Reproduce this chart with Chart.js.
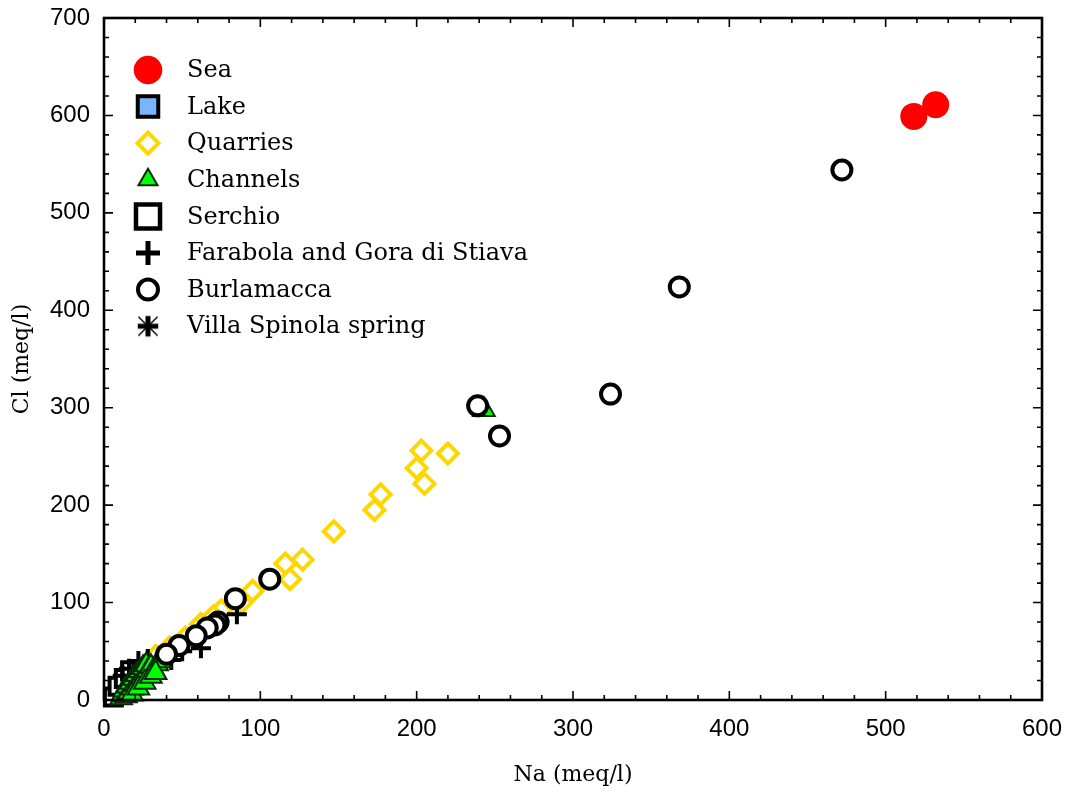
<!DOCTYPE html>
<html>
<head>
<meta charset="utf-8">
<title>Na vs Cl</title>
<script src="https://cdn.jsdelivr.net/npm/chart.js@4"></script>
<style>
  html, body { margin: 0; padding: 0; background: #fff; }
  #wrap { width: 1068px; height: 796px; position: relative; }
</style>
</head>
<body>
<div id="wrap"><canvas id="chart"></canvas></div>
<script>
// ─── Data (meq/l) ────────────────────────────────────────────────────────
const seaNa = [518, 532];
const seaCl = [599, 611];

const lakeNa = [24, 28];
const lakeCl = [28, 31];

const quarriesNa = [203, 220, 200, 205, 177, 173, 147, 127, 116, 119, 95, 88, 75, 70, 62, 52, 42, 33, 28];
const quarriesCl = [256, 253, 238, 222, 211, 195, 173, 144, 140, 124, 112, 100, 92, 86, 78, 64, 54, 45, 38];

const channelsNa = [11, 12, 13, 14, 15, 16, 17, 18, 19, 20, 21, 22, 23, 24, 25, 26, 27, 28, 30, 32, 34, 36, 18, 22, 26, 30, 33, 243];
const channelsCl = [2, 6, 10, 4, 14, 8, 18, 12, 22, 16, 26, 20, 30, 24, 33, 27, 36, 30, 34, 30, 37, 40, 6, 12, 18, 24, 28, 298];

const serchioNa = [6, 9, 13, 17];
const serchioCl = [3, 14, 22, 30];

const farabolaNa = [85, 62, 43, 22, 28, 50, 12, 16];
const farabolaCl = [88, 53, 41, 40, 42, 50, 25, 32];

const burlamaccaNa = [472, 368, 324, 253, 239, 106, 84, 73, 71, 66, 59, 48, 40];
const burlamaccaCl = [544, 424, 314, 271, 302, 124, 104, 80, 77, 74, 66, 56, 47];

const villaNa = [38];
const villaCl = [41];

const xTicks = [0, 100, 200, 300, 400, 500, 600];
const yTicks = [0, 100, 200, 300, 400, 500, 600, 700];

// ─── Styling helpers ─────────────────────────────────────────────────────
const SERIF = "'DejaVu Serif', 'Liberation Serif', serif";
const SANS = "'Liberation Sans', Arial, sans-serif";

function pts(xs, ys) {
  return xs.map(function (x, i) { return { x: x, y: ys[i] }; });
}

// asterisk: thick plus with thin diagonals
function makeAsterisk(size) {
  const c = document.createElement('canvas');
  c.width = size; c.height = size;
  const g = c.getContext('2d');
  const m = size / 2, a = size / 2 - 1;
  g.strokeStyle = '#000';
  g.lineWidth = 1.4;
  g.beginPath();
  g.moveTo(m - a * 0.8, m - a * 0.8); g.lineTo(m + a * 0.8, m + a * 0.8);
  g.moveTo(m + a * 0.8, m - a * 0.8); g.lineTo(m - a * 0.8, m + a * 0.8);
  g.stroke();
  g.lineWidth = 5;
  g.beginPath();
  g.moveTo(m, m - a * 0.85); g.lineTo(m, m + a * 0.85);
  g.moveTo(m - a * 0.85, m); g.lineTo(m + a * 0.85, m);
  g.stroke();
  return c;
}

const asteriskData = makeAsterisk(22);
const asteriskLegend = makeAsterisk(26);

// order: lower = drawn on top
const datasets = [
  { label: 'Sea', data: pts(seaNa, seaCl), pointStyle: 'circle', pointRadius: 13.5,
    pointBackgroundColor: '#ff0000', pointBorderColor: '#ff0000', pointBorderWidth: 0,
    legend: { r: 14.3, w: 0 }, order: 0 },
  { label: 'Lake', data: pts(lakeNa, lakeCl), pointStyle: 'rect', pointRadius: 12,
    pointBackgroundColor: '#7ab4ff', pointBorderColor: '#000', pointBorderWidth: 3.5,
    legend: { r: 14.5, w: 4 }, order: 5 },
  { label: 'Quarries', data: pts(quarriesNa, quarriesCl), pointStyle: 'rectRot', pointRadius: 10,
    pointBackgroundColor: '#ffffff', pointBorderColor: '#ffd700', pointBorderWidth: 4,
    legend: { r: 10.5, w: 4 }, order: 7 },
  { label: 'Channels', data: pts(channelsNa, channelsCl), pointStyle: 'triangle', pointRadius: 12.5,
    pointBackgroundColor: '#00ff00', pointBorderColor: '#0a2a0a', pointBorderWidth: 2,
    legend: { r: 11, w: 2 }, order: 2 },
  { label: 'Serchio', data: pts(serchioNa, serchioCl), pointStyle: 'rect', pointRadius: 12,
    pointBackgroundColor: '#ffffff', pointBorderColor: '#000', pointBorderWidth: 4,
    legend: { r: 17, w: 4.5 }, order: 6 },
  { label: 'Farabola and Gora di Stiava', data: pts(farabolaNa, farabolaCl), pointStyle: 'cross', pointRadius: 10,
    pointBackgroundColor: '#000', pointBorderColor: '#000', pointBorderWidth: 4,
    legend: { r: 12, w: 5 }, order: 4 },
  { label: 'Burlamacca', data: pts(burlamaccaNa, burlamaccaCl), pointStyle: 'circle', pointRadius: 9.5,
    pointBackgroundColor: '#ffffff', pointBorderColor: '#000', pointBorderWidth: 4,
    legend: { r: 10, w: 4 }, order: 1 },
  { label: 'Villa Spinola spring', data: pts(villaNa, villaCl), pointStyle: asteriskData, pointRadius: 11,
    pointBackgroundColor: '#000', pointBorderColor: '#000', pointBorderWidth: 0,
    legend: { r: 13, w: 0, img: asteriskLegend }, order: 3 }
];
datasets.forEach(function (d) { d.showLine = false; d.clip = false; });

// ─── Plugins ─────────────────────────────────────────────────────────────
// frame with inward major/minor ticks on all four sides
const framePlugin = {
  id: 'frame',
  afterDatasetsDraw: function (chart) {
    const ctx = chart.ctx, a = chart.chartArea;
    const xs = chart.scales.x, ys = chart.scales.y;
    ctx.save();
    ctx.strokeStyle = '#000';
    ctx.lineWidth = 1.6;
    ctx.beginPath();
    for (let v = 0; v <= 600; v += 20) {
      const px = xs.getPixelForValue(v), len = v % 100 === 0 ? 9 : 5;
      ctx.moveTo(px, a.bottom); ctx.lineTo(px, a.bottom - len);
      ctx.moveTo(px, a.top); ctx.lineTo(px, a.top + len);
    }
    for (let v = 0; v <= 700; v += 20) {
      const py = ys.getPixelForValue(v), len = v % 100 === 0 ? 9 : 5;
      ctx.moveTo(a.left, py); ctx.lineTo(a.left + len, py);
      ctx.moveTo(a.right, py); ctx.lineTo(a.right - len, py);
    }
    ctx.stroke();
    ctx.lineWidth = 2.6;
    ctx.strokeRect(a.left, a.top, a.right - a.left, a.bottom - a.top);
    ctx.restore();
  }
};

// legend drawn inside the plot, top-left
const legendPlugin = {
  id: 'insideLegend',
  afterDraw: function (chart) {
    const ctx = chart.ctx;
    chart.data.datasets.forEach(function (ds, i) {
      const y = 70 + i * 36.6;
      ctx.save();
      if (ds.legend.img) {
        const im = ds.legend.img;
        ctx.drawImage(im, 148 - im.width / 2, y - im.height / 2);
      } else {
        ctx.fillStyle = ds.pointBackgroundColor;
        ctx.strokeStyle = ds.pointBorderColor;
        ctx.lineWidth = ds.legend.w;
        Chart.helpers.drawPoint(ctx, {
          pointStyle: ds.pointStyle, radius: ds.legend.r, rotation: 0, borderWidth: ds.legend.w
        }, 148, y);
      }
      ctx.fillStyle = '#000';
      ctx.font = '24px ' + SERIF;
      ctx.textBaseline = 'middle';
      ctx.textAlign = 'left';
      ctx.fillText(ds.label, 187, y + 1);
      ctx.restore();
    });
  }
};

// ─── Chart ───────────────────────────────────────────────────────────────
new Chart(document.getElementById('chart'), {
  type: 'scatter',
  data: { datasets: datasets },
  options: {
    responsive: true,
    maintainAspectRatio: false,
    animation: false,
    events: [],
    layout: { padding: { top: 18, right: 26, left: 0, bottom: 0 } },
    plugins: { legend: { display: false }, tooltip: { enabled: false } },
    scales: {
      x: {
        type: 'linear', min: 0, max: 600,
        grid: { display: false, drawTicks: false }, border: { display: false },
        afterBuildTicks: function (s) { s.ticks = xTicks.map(function (v) { return { value: v }; }); },
        ticks: { color: '#000', font: { family: SANS, size: 24 }, padding: 15, maxRotation: 0, autoSkip: false },
        title: { display: true, text: 'Na (meq/l)', color: '#000', font: { family: SERIF, size: 22 }, padding: { top: 0, bottom: 8 } },
        afterFit: function (s) { s.height = 96; s.paddingLeft = 0; s.paddingRight = 0; }
      },
      y: {
        type: 'linear', min: 0, max: 700,
        grid: { display: false, drawTicks: false }, border: { display: false },
        afterBuildTicks: function (s) { s.ticks = yTicks.map(function (v) { return { value: v }; }); },
        ticks: { color: '#000', font: { family: SANS, size: 24 }, padding: 14, autoSkip: false },
        title: { display: true, text: 'Cl (meq/l)', color: '#000', font: { family: SERIF, size: 22 }, padding: { top: 9, bottom: 0 } },
        afterFit: function (s) { s.width = 104; s.paddingTop = 0; s.paddingBottom = 0; }
      }
    }
  },
  plugins: [framePlugin, legendPlugin]
});
</script>
</body>
</html>
